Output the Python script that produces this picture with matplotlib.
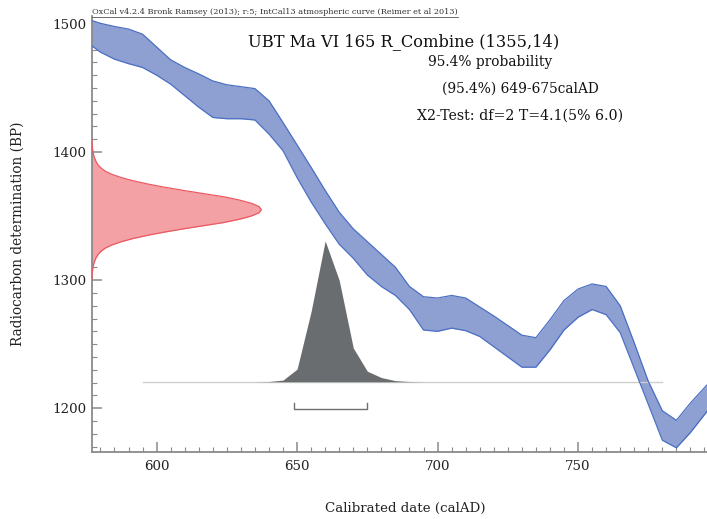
import matplotlib
matplotlib.use("Agg")
import matplotlib.pyplot as plt
from matplotlib.lines import Line2D

FONT = "DejaVu Serif"
plt.rcParams['font.family'] = [FONT, 'DejaVu Sans']

# IntCal13 calibration band (5-year nodes)
curve_year = [575, 580, 585, 590, 595, 600, 605, 610, 615, 620, 625, 630, 635, 640,
              645, 650, 655, 660, 665, 670, 675, 680, 685, 690, 695, 700, 705, 710,
              715, 720, 725, 730, 735, 740, 745, 750, 755, 760, 765, 770, 775, 780,
              785, 790, 795, 800]
curve_upper = [1504, 1500.5, 1498, 1496, 1492, 1482, 1472, 1466, 1461, 1455.5, 1452.5, 1451, 1449.5, 1440,
               1423, 1405.5, 1388, 1370, 1353, 1340, 1330, 1320, 1310, 1295, 1287, 1286, 1288, 1286,
               1279, 1272, 1264.5, 1257, 1255, 1269, 1284, 1293, 1297, 1295, 1280, 1251, 1221, 1198,
               1190.5, 1204, 1216, 1228]
curve_lower = [1486, 1478, 1472.5, 1469, 1466, 1460, 1453, 1444, 1435, 1427, 1426, 1426, 1425, 1414,
               1401, 1380, 1361, 1344, 1328, 1317, 1304, 1295, 1288, 1277, 1261, 1260, 1262.5, 1260.5,
               1256, 1248, 1240, 1232, 1232, 1245.5, 1261, 1271, 1277, 1273, 1259, 1231, 1203, 1175,
               1169, 1181, 1195, 1208]

# Radiocarbon measurement (BP) relative probability
meas_bp = [1300, 1302.5, 1305, 1307.5, 1310, 1312.5, 1315, 1317.5, 1320, 1322.5, 1325, 1327.5,
           1330, 1332.5, 1335, 1337.5, 1340, 1342.5, 1345, 1347.5, 1350, 1352.5, 1355,
           1357.5, 1360, 1362.5, 1365, 1367.5, 1370, 1372.5, 1375, 1377.5, 1380, 1382.5,
           1385, 1387.5, 1390, 1392.5, 1395, 1397.5, 1400, 1402.5, 1405, 1407.5, 1410]
meas_prob = [0.0, 0.0015, 0.003, 0.005, 0.008, 0.012, 0.018, 0.026, 0.037, 0.055, 0.08, 0.12,
             0.175, 0.245, 0.33, 0.43, 0.54, 0.66, 0.78, 0.87, 0.94, 0.985, 1.0,
             0.985, 0.94, 0.87, 0.78, 0.66, 0.54, 0.43, 0.33, 0.245, 0.175, 0.12,
             0.08, 0.055, 0.037, 0.026, 0.018, 0.012, 0.008, 0.005, 0.003, 0.0015, 0.0]

# Calibrated date relative probability
cal_year = [635, 640, 645, 650, 655, 660, 665, 670, 675, 680, 685, 690, 695]
cal_prob = [0.0, 0.002, 0.012, 0.09, 0.5, 1.0, 0.72, 0.24, 0.075, 0.03, 0.008, 0.002, 0.0]
cal_range = [595, 780]
hpd_range = [649, 675]

title = "UBT Ma VI 165 R_Combine (1355,14)"
header = "OxCal v4.2.4 Bronk Ramsey (2013); r:5; IntCal13 atmospheric curve (Reimer et al 2013)"
info = ["95.4% probability", "(95.4%) 649-675calAD", "X2-Test: df=2 T=4.1(5% 6.0)"]

XLIM = (576.9, 795.9)
YLIM = (1166, 1506.2)
meas_scale = 60.4      # years for peak width of measurement curve
cal_base = 1220.6
cal_scale = 110.0      # BP units for calibrated peak height

fig = plt.figure(figsize=(7.07, 5.19), dpi=100)
ax = fig.add_axes([91.7/707, (519-451.7)/519, (707-91.7)/707, (451.7-16)/519])
ax.set_xlim(*XLIM)
ax.set_ylim(*YLIM)

# calibration band
ax.fill_between(curve_year, curve_lower, curve_upper, color="#8e9fd1", lw=0, zorder=2)
ax.plot(curve_year, curve_upper, color="#4a6fc4", lw=0.9, zorder=3)
ax.plot(curve_year, curve_lower, color="#4a6fc4", lw=0.9, zorder=3)

# measurement distribution on y axis
mx = [XLIM[0] + p * meas_scale for p in meas_prob]
ax.fill_betweenx(meas_bp, XLIM[0], mx, color="#f4a1a5", lw=0, zorder=2)
ax.plot(mx, meas_bp, color="#ea5a62", lw=0.9, zorder=3)

# calibrated distribution
ax.plot(cal_range, [cal_base, cal_base], color="#cfcfcf", lw=1.0, zorder=2)
cy = [cal_base + p * cal_scale for p in cal_prob]
ax.fill_between(cal_year, cal_base, cy, color="#6a6d70", lw=0, zorder=4)

# HPD bracket
bk = 1199.2
ax.plot([hpd_range[0], hpd_range[0], hpd_range[1], hpd_range[1]],
        [bk + 4.5, bk, bk, bk + 4.5], color="#6f6f6f", lw=1.0, zorder=4)

# axes styling
for s in ["top", "right"]:
    ax.spines[s].set_visible(False)
for s in ["left", "bottom"]:
    ax.spines[s].set_color("#8a8a8a")
    ax.spines[s].set_linewidth(1.3)
ax.set_xticks([600, 650, 700, 750])
ax.set_xticks(list(range(580, 800, 5)), minor=True)
ax.set_yticks([1200, 1300, 1400, 1500])
ax.set_yticks(list(range(1170, 1510, 10)), minor=True)
ax.tick_params(which="both", direction="in", colors="#8a8a8a", labelcolor="#222222",
               labelsize=9.6)
ax.tick_params(which="major", length=7.5, width=1.1)
ax.tick_params(which="minor", length=3.8, width=0.8)
ax.tick_params(axis="x", pad=6)
ax.tick_params(axis="y", pad=4)

ax.set_xlabel("Calibrated date (calAD)", fontsize=9.6, color="#222222", va="center")
ax.xaxis.set_label_coords((405 - 91.7) / 615.3, (451.7 - 508) / 435.7)
ax.set_ylabel("Radiocarbon determination (BP)", fontsize=9.8, color="#222222", va="center")
ax.yaxis.set_label_coords((18 - 91.7) / 615.3, (451.7 - 234) / 435.7)

# texts (figure pixel positions)
def fpos(x, y):
    return x / 707, 1 - y / 519

fig.text(*fpos(404, 42), title, fontsize=11.7, ha="center", va="center", color="#111111")
fig.text(*fpos(490, 62), info[0], fontsize=9.9, ha="center", va="center", color="#111111")
fig.text(*fpos(520, 89), info[1], fontsize=9.9, ha="center", va="center", color="#111111")
fig.text(*fpos(520.5, 116), info[2], fontsize=10.2, ha="center", va="center", color="#111111")
ht = fig.text(*fpos(92, 12), header, fontsize=5.85, ha="left", va="center", color="#333333")

fig.canvas.draw()
bb = ht.get_window_extent()
fig.add_artist(Line2D([bb.x0 / fig.bbox.width, bb.x1 / fig.bbox.width],
                      [(bb.y0 - 1) / fig.bbox.height] * 2,
                      transform=fig.transFigure, color="#555555", lw=0.6))

fig.savefig("out.png", dpi=100)
